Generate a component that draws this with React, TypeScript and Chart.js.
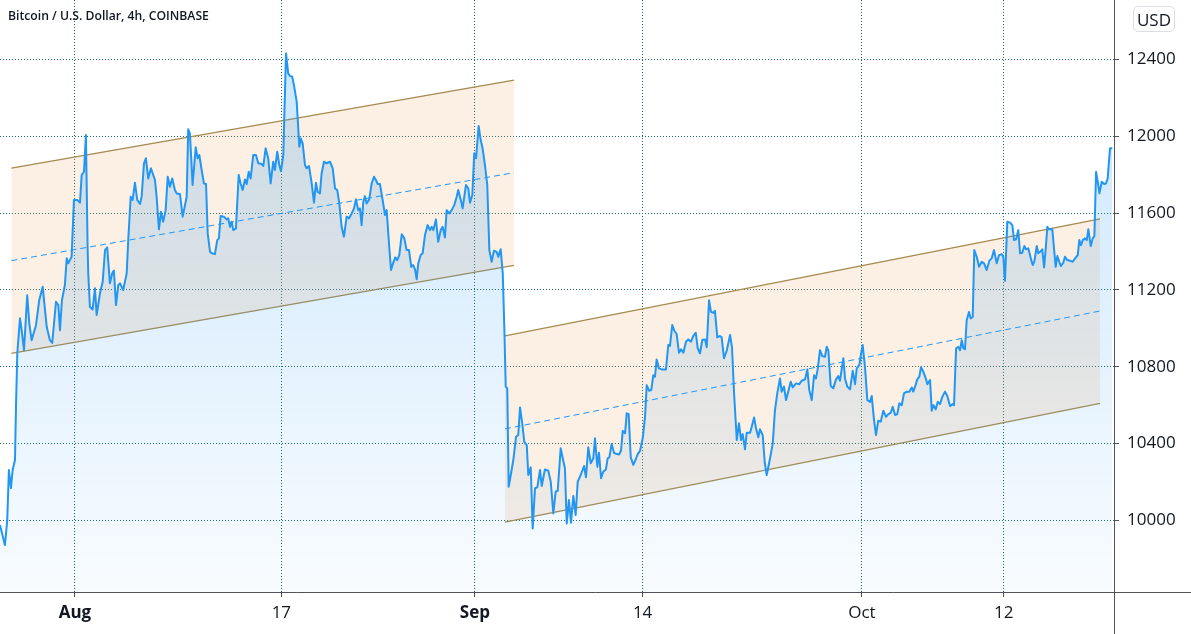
import { useEffect, useRef } from "react";
import { Chart, registerables } from "chart.js";

Chart.register(...registerables);

// Time axis: days since 1 Aug 2020 00:00 (4h BTC/USD, Coinbase)
const times = [
  -5.81, -5.43, -5.25, -5.12, -4.96, -4.83, -4.65, -4.57, -4.47, -4.26,
  -4.13, -3.95, -3.70, -3.54, -3.36, -3.02, -2.77, -2.50, -2.19, -1.94,
  -1.76, -1.47, -1.29, -1.16, -1.01, -0.78, -0.64, -0.52, -0.26, -0.08,
  0.18, 0.39, 0.52, 0.70, 0.85, 0.98, 1.03, 1.16, 1.37, 1.55,
  1.68, 1.94, 2.15, 2.33, 2.50, 2.71, 2.89, 3.02, 3.18, 3.36,
  3.49, 3.74, 4.01, 4.13, 4.32, 4.47, 4.65, 4.83, 5.04, 5.17,
  5.35, 5.50, 5.68, 5.89, 6.20, 6.33, 6.51, 6.67, 6.84, 7.03,
  7.19, 7.36, 7.54, 7.75, 7.88, 8.14, 8.35, 8.53, 8.66, 8.78,
  8.91, 9.12, 9.36, 9.51, 9.64, 9.82, 10.00, 10.16, 10.29, 10.47,
  10.64, 10.85, 11.03, 11.16, 11.29, 11.55, 11.76, 11.88, 12.02, 12.15,
  12.27, 12.48, 12.69, 12.84, 13.00, 13.18, 13.31, 13.47, 13.62, 13.82,
  14.03, 14.21, 14.47, 14.60, 14.78, 14.98, 15.17, 15.37, 15.50, 15.68,
  15.84, 15.97, 16.15, 16.22, 16.36, 16.53, 16.67, 16.84, 17.00, 17.19,
  17.39, 17.50, 17.65, 17.83, 17.96, 18.14, 18.35, 18.53, 18.68, 18.81,
  18.99, 19.12, 19.30, 19.51, 19.77, 19.98, 20.16, 20.33, 20.49, 20.67,
  20.85, 21.06, 21.24, 21.45, 21.63, 21.78, 21.96, 22.09, 22.22, 22.35,
  22.48, 22.61, 22.81, 23.00, 23.18, 23.33, 23.47, 23.64, 23.85, 24.03,
  24.16, 24.36, 24.50, 24.67, 24.83, 24.98, 25.14, 25.33, 25.53, 25.71,
  25.89, 26.07, 26.22, 26.36, 26.49, 26.61, 26.80, 26.95, 27.13, 27.34,
  27.52, 27.65, 27.78, 27.98, 28.16, 28.35, 28.50, 28.68, 28.81, 29.02,
  29.20, 29.40, 29.59, 29.71, 29.90, 30.05, 30.18, 30.31, 30.49, 30.62,
  30.80, 30.95, 31.09, 31.29, 31.45, 31.60, 31.78, 31.96, 32.12, 32.30,
  32.48, 32.69, 32.81, 33.00, 33.16, 33.28, 33.39, 33.51, 33.62, 33.85,
  33.98, 34.19, 34.36, 34.50, 34.67, 34.83, 35.02, 35.14, 35.33, 35.48,
  35.66, 35.84, 36.05, 36.18, 36.43, 36.69, 36.88, 37.08, 37.26, 37.42,
  37.65, 37.81, 37.98, 38.12, 38.29, 38.45, 38.63, 38.81, 38.97, 39.20,
  39.46, 39.61, 39.79, 39.98, 40.18, 40.31, 40.49, 40.62, 40.78, 40.95,
  41.16, 41.29, 41.42, 41.60, 41.78, 41.99, 42.19, 42.33, 42.46, 42.64,
  42.77, 42.92, 43.08, 43.28, 43.47, 43.62, 43.80, 44.01, 44.19, 44.32,
  44.50, 44.67, 44.83, 44.96, 45.09, 45.27, 45.48, 45.81, 45.99, 46.12,
  46.30, 46.46, 46.64, 46.82, 46.98, 47.16, 47.36, 47.54, 47.75, 47.93,
  48.12, 48.27, 48.45, 48.63, 48.84, 48.97, 49.15, 49.30, 49.48, 49.61,
  49.79, 50.00, 50.13, 50.31, 50.52, 50.78, 50.93, 51.09, 51.30, 51.47,
  51.63, 51.76, 51.94, 52.07, 52.33, 52.46, 52.64, 52.79, 52.97, 53.10,
  53.31, 53.47, 53.62, 53.88, 54.09, 54.26, 54.44, 54.65, 54.78, 54.96,
  55.12, 55.29, 55.48, 55.64, 55.89, 56.15, 56.33, 56.59, 56.77, 56.92,
  57.11, 57.29, 57.44, 57.57, 57.75, 57.93, 58.14, 58.27, 58.40, 58.58,
  58.78, 58.99, 59.17, 59.30, 59.56, 59.69, 59.87, 60.08, 60.29, 60.47,
  60.60, 60.80, 60.93, 61.06, 61.24, 61.42, 61.63, 61.76, 61.94, 62.09,
  62.27, 62.46, 62.66, 62.87, 63.05, 63.23, 63.39, 63.57, 63.74, 63.90,
  64.09, 64.26, 64.47, 64.68, 64.86, 64.98, 65.12, 65.29, 65.45, 65.58,
  65.76, 65.95, 66.07, 66.28, 66.41, 66.54, 66.72, 66.88, 67.05, 67.23,
  67.44, 67.62, 67.83, 68.04, 68.14, 68.30, 68.47, 68.61, 68.74, 68.86,
  68.99, 69.12, 69.30, 69.43, 69.59, 69.71, 69.90, 70.08, 70.29, 70.47,
  70.67, 70.88, 71.06, 71.24, 71.45, 71.63, 71.84, 71.96, 72.09, 72.27,
  72.48, 72.66, 72.79, 72.95, 73.12, 73.26, 73.43, 73.59, 73.72, 73.90,
  74.09, 74.24, 74.36, 74.55, 74.67, 74.81, 74.98, 75.12, 75.25, 75.37,
  75.50, 75.76, 75.89, 76.02, 76.15, 76.30, 76.43, 76.61, 76.74, 76.92,
  77.13, 77.34, 77.52, 77.73, 77.85, 77.98, 78.12, 78.29, 78.43, 78.55,
  78.74, 78.89, 79.02, 79.15, 79.28, 79.41, 79.59, 79.77, 79.92, 80.05,
  80.23, 80.41,
];

const prices = [
  9976, 9871, 9998, 10262, 10168, 10262, 10314, 10591, 10870, 11052,
  10990, 10886, 11172, 11026, 10938, 11016, 11146, 11216, 11008, 10938,
  10924, 11138, 11121, 10990, 11146, 11225, 11364, 11338, 11372, 11668,
  11668, 11654, 11798, 11815, 12006, 11424, 11287, 11112, 11098, 11208,
  11069, 11182, 11242, 11407, 11421, 11234, 11286, 11300, 11121, 11225,
  11234, 11199, 11286, 11459, 11685, 11668, 11758, 11668, 11647, 11685,
  11859, 11885, 11780, 11833, 11772, 11685, 11515, 11607, 11555, 11615,
  11789, 11737, 11780, 11720, 11702, 11699, 11581, 11641, 11685, 12036,
  12015, 11746, 11942, 11885, 11902, 11824, 11754, 11751, 11494, 11398,
  11390, 11386, 11459, 11468, 11584, 11581, 11567, 11572, 11528, 11555,
  11511, 11520, 11798, 11754, 11720, 11775, 11751, 11815, 11780, 11902,
  11902, 11859, 11855, 11845, 11937, 11885, 11754, 11867, 11824, 11919,
  11850, 11818, 11902, 12084, 12431, 12327, 12313, 12310, 12257, 12179,
  11945, 11989, 11963, 11850, 11833, 11845, 11754, 11654, 11758, 11711,
  11702, 11806, 11867, 11859, 11867, 11833, 11728, 11720, 11650, 11528,
  11477, 11581, 11572, 11598, 11624, 11671, 11615, 11624, 11537, 11658,
  11688, 11650, 11671, 11754, 11789, 11772, 11751, 11751, 11668, 11590,
  11615, 11424, 11303, 11341, 11369, 11355, 11381, 11489, 11468, 11407,
  11407, 11320, 11329, 11307, 11255, 11338, 11381, 11390, 11485, 11537,
  11511, 11528, 11511, 11567, 11450, 11511, 11528, 11473, 11615, 11598,
  11615, 11641, 11685, 11720, 11671, 11624, 11685, 11746, 11728, 11654,
  11694, 11911, 11885, 12053, 11980, 11937, 11850, 11746, 11407, 11346,
  11404, 11398, 11372, 11411, 11286, 11008, 10696, 10687, 10175, 10262,
  10314, 10435, 10444, 10588, 10505, 10409, 10392, 10236, 10276, 9958,
  10167, 10172, 10262, 10179, 10265, 10258, 10201, 10036, 10149, 10154,
  10375, 10323, 10271, 9984, 10106, 9988, 10127, 10028, 10201, 10236,
  10283, 10224, 10380, 10297, 10323, 10427, 10279, 10352, 10219, 10253,
  10265, 10323, 10328, 10397, 10352, 10345, 10343, 10365, 10466, 10453,
  10557, 10553, 10328, 10289, 10318, 10345, 10362, 10427, 10539, 10704,
  10675, 10678, 10756, 10747, 10838, 10791, 10786, 10786, 10913, 10908,
  11017, 10987, 10970, 10873, 10890, 10873, 10930, 10942, 10930, 10960,
  10977, 10896, 10870, 10940, 10942, 10901, 11146, 11085, 11080, 11091,
  10953, 10960, 10953, 10844, 10883, 10965, 10901, 10661, 10418, 10505,
  10418, 10449, 10370, 10456, 10456, 10487, 10536, 10479, 10432, 10474,
  10444, 10300, 10236, 10323, 10401, 10574, 10661, 10739, 10670, 10696,
  10626, 10670, 10722, 10692, 10713, 10709, 10727, 10734, 10786, 10678,
  10626, 10756, 10739, 10786, 10886, 10855, 10852, 10904, 10883, 10700,
  10687, 10734, 10751, 10727, 10844, 10739, 10696, 10682, 10779, 10709,
  10791, 10809, 10866, 10913, 10797, 10626, 10617, 10647, 10522, 10444,
  10519, 10514, 10571, 10539, 10553, 10560, 10591, 10548, 10553, 10609,
  10600, 10661, 10670, 10670, 10692, 10670, 10696, 10734, 10748, 10797,
  10774, 10739, 10709, 10730, 10571, 10600, 10578, 10617, 10605, 10643,
  10670, 10647, 10595, 10605, 10600, 10896, 10904, 10886, 10938, 10896,
  10891, 11042, 11085, 11051, 11059, 11407, 11372, 11320, 11346, 11338,
  11303, 11352, 11364, 11407, 11338, 11381, 11386, 11372, 11247, 11555,
  11550, 11537, 11459, 11463, 11511, 11390, 11393, 11428, 11411, 11416,
  11364, 11329, 11346, 11428, 11390, 11398, 11411, 11317, 11416, 11528,
  11515, 11515, 11416, 11320, 11376, 11346, 11324, 11341, 11372, 11355,
  11352, 11346, 11364, 11381, 11459, 11433, 11459, 11468, 11459, 11515,
  11428, 11468, 11480, 11815, 11763, 11702, 11763, 11751, 11754, 11780,
  11937, 11937,
];

// Parallel channels (start / end)
const channel1Times = [-4.93, 34.03];
const channel1Upper = [11834, 12292];
const channel1Lower = [10869, 11328];
const channel1Middle = [11352, 11810];

const channel2Times = [33.33, 79.46];
const channel2Upper = [10960, 11570];
const channel2Lower = [9991, 10609];
const channel2Middle = [10476, 11090];

// Axes
const xTickDays = [0, 16, 31, 44, 61, 72];
const xTickLabels = ["Aug", "17", "Sep", "14", "Oct", "12"];
const boldTickLabels = ["Aug", "Sep"];
const yTickValues = [10000, 10400, 10800, 11200, 11600, 12000, 12400];
const xRange = [-5.81, 80.54];
const yRange = [9627, 12709];

const FONT = '"Open Sans", "Noto Sans", sans-serif';
const TEXT = "#131722";
const AXIS = "#50535e";
const GRID = "#1f6b6b";
const BLUE = "#2196f3";
const CH_LINE = "#a58b50";
const CH_FILL = "rgba(235,150,70,0.15)";

const pts = (xs: number[], ys: number[]) => xs.map((x, i) => ({ x, y: ys[i] }));

const frameLines = {
  id: "frameLines",
  afterDraw(chart: any) {
    const { ctx, chartArea, width, height } = chart;
    ctx.save();
    ctx.strokeStyle = AXIS;
    ctx.lineWidth = 1;
    const x = Math.round(chartArea.right) + 0.5;
    const y = Math.round(chartArea.bottom) + 0.5;
    ctx.beginPath();
    ctx.moveTo(x, 0);
    ctx.lineTo(x, height);
    ctx.moveTo(0, y);
    ctx.lineTo(width, y);
    ctx.stroke();
    ctx.restore();
  },
};

function channelSets(ts: number[], up: number[], lo: number[], mid: number[]) {
  return [
    {
      data: pts(ts, up),
      borderColor: CH_LINE,
      borderWidth: 1.3,
      pointRadius: 0,
      fill: "+1",
      backgroundColor: CH_FILL,
      order: 2,
    },
    {
      data: pts(ts, lo),
      borderColor: CH_LINE,
      borderWidth: 1.3,
      pointRadius: 0,
      fill: false,
      order: 2,
    },
    {
      data: pts(ts, mid),
      borderColor: BLUE,
      borderWidth: 1,
      borderDash: [6, 4],
      pointRadius: 0,
      fill: false,
      order: 1,
    },
  ];
}

const zeroPadding = (s: any) => {
  s.paddingTop = 0;
  s.paddingBottom = 0;
  s.paddingLeft = 0;
  s.paddingRight = 0;
};

export default function App() {
  const ref = useRef<HTMLCanvasElement>(null);

  useEffect(() => {
    if (!ref.current) return;
    const chart = new Chart(ref.current, {
      type: "line",
      data: {
        datasets: [
          {
            data: pts(times, prices),
            borderColor: BLUE,
            borderWidth: 2,
            borderJoinStyle: "round",
            pointRadius: 0,
            fill: "start",
            order: 0,
            backgroundColor: (c: any) => {
              const a = c.chart.chartArea;
              if (!a) return "rgba(33,150,243,0.15)";
              const g = c.chart.ctx.createLinearGradient(0, a.top, 0, a.bottom);
              g.addColorStop(0, "rgba(33,150,243,0.26)");
              g.addColorStop(1, "rgba(33,150,243,0.03)");
              return g;
            },
          },
          ...channelSets(channel1Times, channel1Upper, channel1Lower, channel1Middle),
          ...channelSets(channel2Times, channel2Upper, channel2Lower, channel2Middle),
        ] as any,
      },
      options: {
        responsive: false,
        maintainAspectRatio: false,
        animation: false,
        events: [],
        layout: { padding: 0 },
        plugins: {
          legend: { display: false },
          tooltip: { enabled: false },
          title: { display: false },
        },
        scales: {
          x: {
            type: "linear",
            position: "bottom",
            min: xRange[0],
            max: xRange[1],
            afterBuildTicks: (s: any) => {
              s.ticks = xTickDays.map((v) => ({ value: v }));
            },
            afterFit: (s: any) => {
              s.height = 42;
              zeroPadding(s);
            },
            grid: {
              color: GRID,
              lineWidth: 1,
              drawTicks: true,
              tickLength: 5,
              tickColor: AXIS,
              tickWidth: 1,
              tickBorderDash: [],
            },
            border: { display: false, dash: [1, 2] },
            ticks: {
              autoSkip: false,
              maxRotation: 0,
              minRotation: 0,
              padding: 6,
              color: TEXT,
              font: (ctx: any) => ({
                family: FONT,
                size: 17,
                weight: boldTickLabels.includes(xTickLabels[xTickDays.indexOf(ctx.tick?.value)])
                  ? "bold"
                  : "normal",
              }),
              callback: (v: any) => xTickLabels[xTickDays.indexOf(Number(v))] ?? "",
            },
          },
          y: {
            type: "linear",
            position: "right",
            min: yRange[0],
            max: yRange[1],
            afterBuildTicks: (s: any) => {
              s.ticks = yTickValues.map((v) => ({ value: v }));
            },
            afterFit: (s: any) => {
              s.width = 77;
              zeroPadding(s);
            },
            grid: {
              color: GRID,
              lineWidth: 1,
              drawTicks: true,
              tickLength: 5,
              tickColor: AXIS,
              tickWidth: 1,
              tickBorderDash: [],
            },
            border: { display: false, dash: [1, 2] },
            ticks: {
              padding: 8,
              color: TEXT,
              font: { family: FONT, size: 17 },
              callback: (v: any) => String(v),
            },
          },
        },
      } as any,
      plugins: [frameLines],
    });
    return () => chart.destroy();
  }, []);

  return (
    <div
      style={{
        position: "absolute",
        left: 0,
        top: 0,
        width: 1191,
        height: 634,
        background: "#ffffff",
        overflow: "hidden",
      }}
    >
      <canvas ref={ref} width={1191} height={634} style={{ display: "block", width: 1191, height: 634 }} />
      <div
        style={{
          position: "absolute",
          left: 8,
          top: 10,
          fontFamily: FONT,
          fontWeight: 600,
          fontSize: 12.2,
          lineHeight: 1,
          color: TEXT,
          whiteSpace: "nowrap",
        }}
      >
        Bitcoin / U.S. Dollar, 4h, COINBASE
      </div>
      <div
        style={{
          position: "absolute",
          left: 1133,
          top: 6,
          width: 42,
          height: 26,
          boxSizing: "border-box",
          border: "1px solid #dcdee4",
          borderRadius: 5,
          display: "flex",
          alignItems: "center",
          justifyContent: "center",
          fontFamily: FONT,
          fontSize: 17,
          color: TEXT,
          background: "#ffffff",
        }}
      >
        USD
      </div>
    </div>
  );
}
